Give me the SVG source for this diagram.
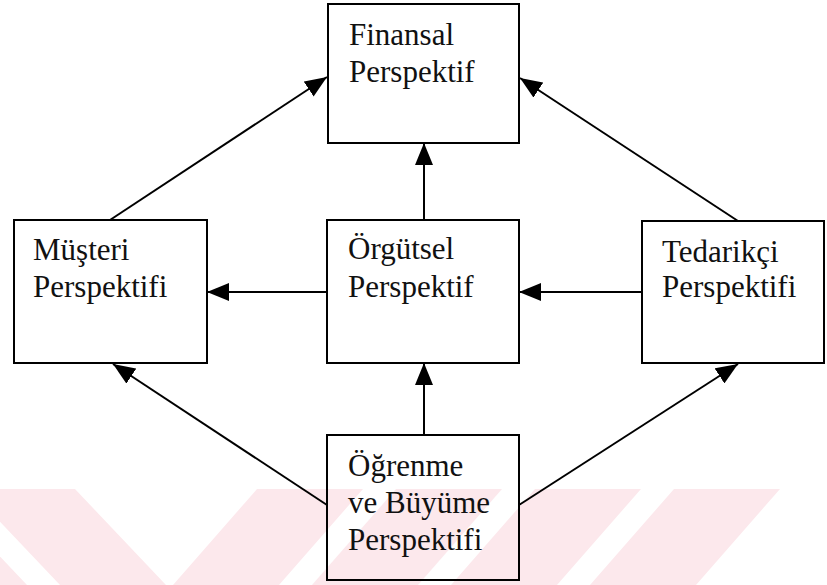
<svg xmlns="http://www.w3.org/2000/svg" width="827" height="585" viewBox="0 0 827 585">
  <style>
    .box { fill: none; stroke: #000; stroke-width: 2; }
    .lbl { font-family: "Liberation Serif", "Times New Roman", serif; font-size: 31px; fill: #111; }
    .edge { stroke: #000; stroke-width: 2; fill: none; marker-end: url(#arrow); }
    .wm { fill: #fce8ec; }
  </style>
  <defs>
    <marker id="arrow" markerUnits="userSpaceOnUse" markerWidth="22" markerHeight="18" refX="22" refY="9" orient="auto">
      <path d="M0,0 L22,9 L0,18 z" fill="#000"/>
    </marker>
    <clipPath id="wmclip">
      <rect x="0" y="489" width="827" height="96"/>
    </clipPath>
  </defs>
  <rect x="0" y="0" width="827" height="585" fill="#fff"/>
  <g id="watermark" clip-path="url(#wmclip)">
    <polygon class="wm" points="-170,489 -64,489 27,585 -79,585"/>
    <polygon class="wm" points="-31,489 75,489 166,585 60,585"/>
    <polygon class="wm" points="257,489 363,489 279,585 173,585"/>
    <polygon class="wm" points="396,489 502,489 418,585 312,585"/>
    <polygon class="wm" points="535,489 641,489 557,585 451,585"/>
    <polygon class="wm" points="674,489 780,489 696,585 590,585"/>
  </g>
  <g id="connectors">
    <line class="edge" x1="110" y1="220" x2="327" y2="77"/>
    <line class="edge" x1="738" y1="221" x2="520" y2="78"/>
    <line class="edge" x1="424" y1="220" x2="424" y2="143"/>
    <line class="edge" x1="327" y1="292" x2="207" y2="292"/>
    <line class="edge" x1="642" y1="292" x2="519" y2="292"/>
    <line class="edge" x1="424" y1="435" x2="424" y2="363"/>
    <line class="edge" x1="327" y1="505" x2="113" y2="364"/>
    <line class="edge" x1="519" y1="505" x2="738" y2="364"/>
  </g>
  <g id="finansal">
    <rect class="box" x="328" y="4" width="191" height="139"/>
    <text class="lbl" x="349" y="45">Finansal</text>
    <text class="lbl" x="349" y="82">Perspektif</text>
  </g>
  <g id="musteri">
    <rect class="box" x="14" y="220" width="193" height="143"/>
    <text class="lbl" x="33" y="260">Müşteri</text>
    <text class="lbl" x="33" y="297">Perspektifi</text>
  </g>
  <g id="orgutsel">
    <rect class="box" x="327" y="220" width="192" height="143"/>
    <text class="lbl" x="348" y="259">Örgütsel</text>
    <text class="lbl" x="348" y="297">Perspektif</text>
  </g>
  <g id="tedarikci">
    <rect class="box" x="642" y="221" width="182" height="142"/>
    <text class="lbl" x="662" y="262">Tedarikçi</text>
    <text class="lbl" x="662" y="297">Perspektifi</text>
  </g>
  <g id="ogrenme">
    <rect class="box" x="327" y="435" width="192" height="145"/>
    <text class="lbl" x="348" y="476">Öğrenme</text>
    <text class="lbl" x="348" y="513">ve Büyüme</text>
    <text class="lbl" x="348" y="550">Perspektifi</text>
  </g>
</svg>
